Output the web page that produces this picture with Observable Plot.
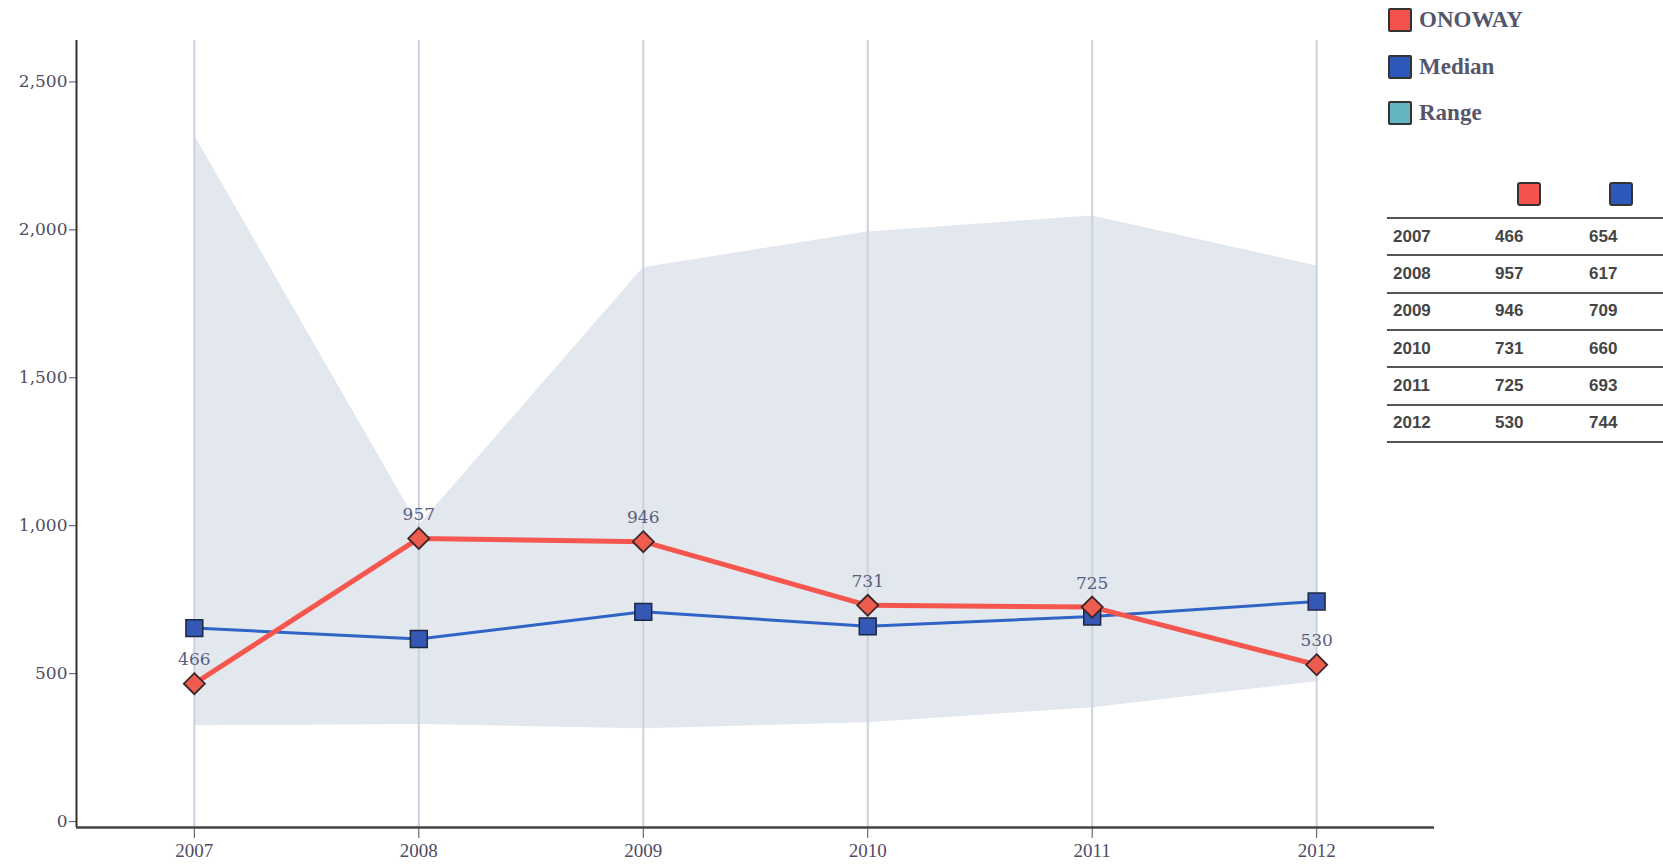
<!DOCTYPE html>
<html>
<head>
<meta charset="utf-8">
<script src="https://cdn.jsdelivr.net/npm/d3@7"></script>
<script src="https://cdn.jsdelivr.net/npm/@observablehq/plot@0.6"></script>
<style>
  body { margin: 0; background: #fff; }
  #wrap { position: relative; width: 1663px; height: 866px; overflow: hidden; }
  #chart svg { display: block; }
  .x-lab text { font-family: "Liberation Serif", serif; }
  .legend-item { position: absolute; left: 1388px; height: 24px; display: flex; align-items: center; }
  .legend-sw { width: 20px; height: 20px; border: 2px solid #333; border-radius: 2px; box-sizing: content-box; }
  .legend-tx { margin-left: 7px; font-family: "Liberation Serif", serif; font-weight: bold; font-size: 23px; color: #55556b; }
  .tbl-line { position: absolute; left: 1387px; width: 276px; height: 0; border-top: 2px solid #555; }
  .tbl-cell { position: absolute; font-family: "Liberation Sans", Arial, sans-serif; font-weight: bold; font-size: 17px; color: #454545; line-height: 20px; }
  .tbl-sw { position: absolute; top: 182px; width: 20px; height: 20px; border: 2px solid #333; border-radius: 3px; }
</style>
</head>
<body>
<div id="wrap"><div id="chart"></div></div>
<script>
const years = [2007, 2008, 2009, 2010, 2011, 2012];
const onoway = [466, 957, 946, 731, 725, 530];
const median = [654, 617, 709, 660, 693, 744];
const rangeLow = [324, 328, 314, 334, 385, 473];
const rangeHigh = [2320, 1000, 1872, 1993, 2047, 1878];
const yTicks = [0, 500, 1000, 1500, 2000, 2500];
const seriesNames = ["ONOWAY", "Median", "Range"];
const seriesColors = ["#f4524c", "#2f58bd", "#62b6c2"];

const data = years.map((year, i) => ({
  year, onoway: onoway[i], median: median[i], low: rangeLow[i], high: rangeHigh[i]
}));

const xDom = [d3.min(years) - 0.525, d3.max(years) + 0.525];
const yDom = [-20, 2640];

const chart = Plot.plot({
  width: 1663,
  height: 866,
  marginLeft: 76,
  marginRight: 229,
  marginTop: 40,
  marginBottom: 39,
  style: { background: "white", color: "#4e4c66", fontFamily: "DejaVu Serif, serif", fontSize: "17px" },
  x: { domain: xDom, ticks: years, tickFormat: d => String(d), tickSize: 11, tickPadding: 5, label: null },
  y: { domain: yDom, ticks: yTicks, tickFormat: d3.format(","), tickSize: 7, tickPadding: 2, label: null },
  marks: [
    Plot.areaY(data, { x: "year", y1: "low", y2: "high", fill: "#e3e7ee" }),
    Plot.ruleX(years, { stroke: "#cbd2df", strokeWidth: 2 }),
    Plot.ruleX([xDom[0]], { stroke: "#333", strokeWidth: 2 }),
    Plot.ruleY([yDom[0]], { stroke: "#444", strokeWidth: 2.5 }),
    Plot.line(data, { x: "year", y: "median", stroke: "#2f64c6", strokeWidth: 3 }),
    Plot.line(data, { x: "year", y: "onoway", stroke: "#f5574f", strokeWidth: 5 }),
    Plot.dot(data, { x: "year", y: "median", symbol: "square", r: 9.5, fill: "#3458b4", stroke: "#1f2640", strokeWidth: 1.5 }),
    Plot.dot(data, { x: "year", y: "onoway", symbol: "diamond2", r: 9.5, fill: "#ee5b4f", stroke: "#3a2828", strokeWidth: 1.8 }),
    Plot.text(data, { x: "year", y: "onoway", text: d => String(d.onoway), dy: -24, fontSize: 17, fill: "#5a5e80" })
  ]
});
document.getElementById("chart").appendChild(chart);

// x tick labels in a narrower serif
chart.querySelectorAll('[aria-label="x-axis tick label"] text, [aria-label="x-axis"] text').forEach(t => {
  t.style.fontFamily = '"Liberation Serif", serif';
  t.style.fontSize = "19px";
});

const wrap = document.getElementById("wrap");
// legend
seriesNames.forEach((name, i) => {
  const item = document.createElement("div");
  item.className = "legend-item";
  item.style.top = (8 + i * 46.5) + "px";
  const sw = document.createElement("div");
  sw.className = "legend-sw";
  sw.style.background = seriesColors[i];
  const tx = document.createElement("div");
  tx.className = "legend-tx";
  tx.textContent = name;
  item.appendChild(sw); item.appendChild(tx);
  wrap.appendChild(item);
});

// table
[seriesColors[0], seriesColors[1]].forEach((c, i) => {
  const sw = document.createElement("div");
  sw.className = "tbl-sw";
  sw.style.left = (1517 + i * 92) + "px";
  sw.style.background = c;
  wrap.appendChild(sw);
});
const rowTop = 218, rowH = 37.3;
for (let i = 0; i <= years.length; i++) {
  const ln = document.createElement("div");
  ln.className = "tbl-line";
  ln.style.top = (rowTop + i * rowH - 1) + "px";
  wrap.appendChild(ln);
}
years.forEach((yr, i) => {
  const cy = rowTop + i * rowH + rowH / 2 - 10;
  [[yr, 1393], [onoway[i], 1495], [median[i], 1589]].forEach(([v, x]) => {
    const c = document.createElement("div");
    c.className = "tbl-cell";
    c.style.left = x + "px";
    c.style.top = cy + "px";
    c.textContent = String(v);
    wrap.appendChild(c);
  });
});
</script>
</body>
</html>
